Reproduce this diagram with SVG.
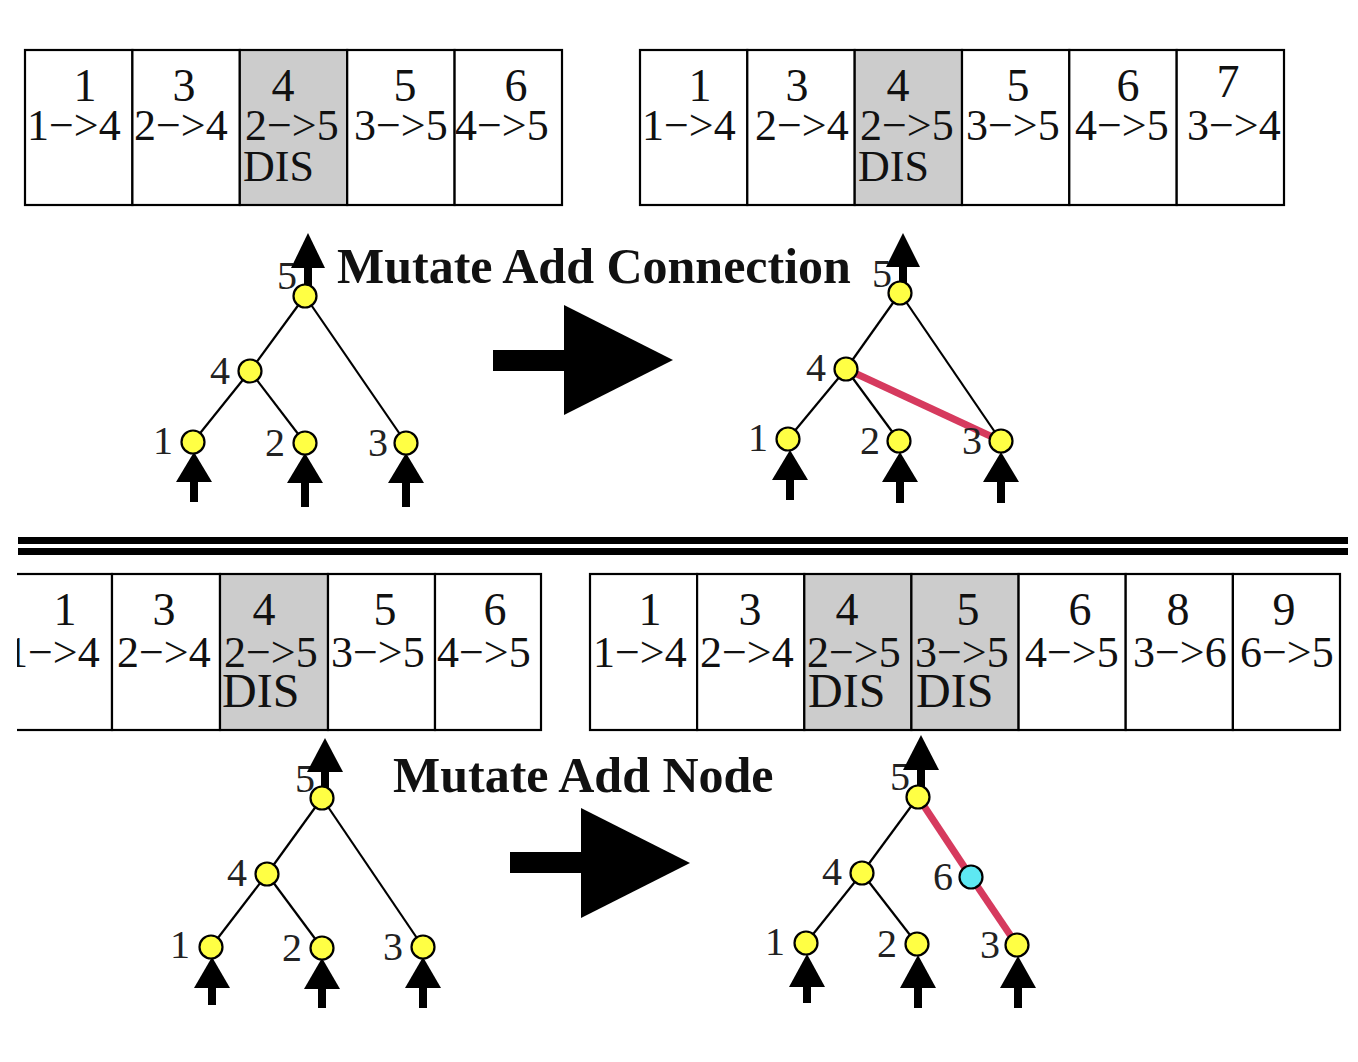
<svg xmlns="http://www.w3.org/2000/svg" width="1358" height="1062" viewBox="0 0 1358 1062">
<defs>
<style>
.bg{fill:#ffffff}
.cell{fill:#ffffff;stroke:#000;stroke-width:2.2}
.dis{fill:#cccccc;stroke:#000;stroke-width:2.2}
.gt{font-family:"Liberation Serif","Times New Roman",serif;font-size:44px;fill:#111}
.gn{font-family:"Liberation Serif","Times New Roman",serif;font-size:46px;fill:#111;text-anchor:middle}
.gd{font-family:"Liberation Serif","Times New Roman",serif;font-size:44px;fill:#111}
.gd2{font-family:"Liberation Serif","Times New Roman",serif;font-size:48px;fill:#111}
.lab{font-family:"Liberation Serif","Times New Roman",serif;font-size:40px;fill:#222;text-anchor:middle}
.title{font-family:"Liberation Serif","Times New Roman",serif;font-size:50px;font-weight:bold;fill:#111}
.edge{stroke:#000;stroke-width:2.2;fill:none}
.new{stroke:#d63a5e;stroke-width:7;fill:none}
.node{fill:#ffff44;stroke:#000;stroke-width:2.2}
.hid{fill:#5ee8f2;stroke:#000;stroke-width:2.2}
.arr{fill:#000}
</style>
<clipPath id="clipBL"><rect x="17" y="560" width="600" height="200"/></clipPath>
</defs>
<rect class="bg" x="0" y="0" width="1358" height="1062"/>

<!-- Top-left genome -->
<g id="genome-parent-conn">
<g id="g1-c1"><rect class="cell" x="25" y="50" width="107.4" height="155"/><text class="gn" x="85" y="101">1</text><text class="gt" x="27" y="140">1−&gt;4</text></g>
<g id="g1-c3"><rect class="cell" x="132.4" y="50" width="107.4" height="155"/><text class="gn" x="184" y="101">3</text><text class="gt" x="134" y="140">2−&gt;4</text></g>
<g id="g1-c4"><rect class="dis" x="239.8" y="50" width="107.4" height="155"/><text class="gn" x="283" y="101">4</text><text class="gt" x="245" y="140">2−&gt;5</text><text class="gd" x="243" y="181">DIS</text></g>
<g id="g1-c5"><rect class="cell" x="347.2" y="50" width="107.4" height="155"/><text class="gn" x="405" y="101">5</text><text class="gt" x="354" y="140">3−&gt;5</text></g>
<g id="g1-c6"><rect class="cell" x="454.6" y="50" width="107.4" height="155"/><text class="gn" x="516" y="101">6</text><text class="gt" x="455" y="140">4−&gt;5</text></g>
</g>

<!-- Top-right genome -->
<g id="genome-child-conn">
<g id="g2-c1"><rect class="cell" x="640" y="50" width="107.3" height="155"/><text class="gn" x="700" y="101">1</text><text class="gt" x="642" y="140">1−&gt;4</text></g>
<g id="g2-c3"><rect class="cell" x="747.3" y="50" width="107.4" height="155"/><text class="gn" x="797" y="101">3</text><text class="gt" x="755" y="140">2−&gt;4</text></g>
<g id="g2-c4"><rect class="dis" x="854.7" y="50" width="107.3" height="155"/><text class="gn" x="898" y="101">4</text><text class="gt" x="860" y="140">2−&gt;5</text><text class="gd" x="858" y="181">DIS</text></g>
<g id="g2-c5"><rect class="cell" x="962" y="50" width="107.3" height="155"/><text class="gn" x="1018" y="101">5</text><text class="gt" x="966" y="140">3−&gt;5</text></g>
<g id="g2-c6"><rect class="cell" x="1069.3" y="50" width="107.4" height="155"/><text class="gn" x="1128" y="101">6</text><text class="gt" x="1075" y="140">4−&gt;5</text></g>
<g id="g2-c7"><rect class="cell" x="1176.7" y="50" width="107.3" height="155"/><text class="gn" x="1228" y="97">7</text><text class="gt" x="1187" y="140">3−&gt;4</text></g>
</g>

<!-- Title top -->
<text class="title" x="337" y="283">Mutate Add Connection</text>

<!-- Big arrows -->
<g id="big-arrow-top"><rect class="arr" x="493" y="350" width="73" height="21"/><polygon class="arr" points="564,305 673,360 564,415"/></g>
<g id="big-arrow-bottom"><rect class="arr" x="510" y="852" width="73" height="21"/><polygon class="arr" points="581,808 690,863 581,918"/></g>

<!-- Separator -->
<g id="separator">
<rect x="18" y="537" width="1330" height="7" fill="#000"/>
<rect x="18" y="548" width="1330" height="7" fill="#000"/>
</g>

<!-- Bottom-left genome -->
<g id="genome-parent-node" clip-path="url(#clipBL)">
<g id="g3-c1"><rect class="cell" x="4.7" y="574" width="107.3" height="156"/><text class="gn" x="65" y="625">1</text><text class="gt" x="6" y="667">1−&gt;4</text></g>
<g id="g3-c3"><rect class="cell" x="112" y="574" width="108" height="156"/><text class="gn" x="164" y="625">3</text><text class="gt" x="117" y="667">2−&gt;4</text></g>
<g id="g3-c4"><rect class="dis" x="220" y="574" width="108" height="156"/><text class="gn" x="264" y="625">4</text><text class="gt" x="224" y="667">2−&gt;5</text><text class="gd2" x="222" y="707">DIS</text></g>
<g id="g3-c5"><rect class="cell" x="328" y="574" width="107" height="156"/><text class="gn" x="385" y="625">5</text><text class="gt" x="331" y="667">3−&gt;5</text></g>
<g id="g3-c6"><rect class="cell" x="435" y="574" width="106" height="156"/><text class="gn" x="495" y="625">6</text><text class="gt" x="437" y="667">4−&gt;5</text></g>
</g>

<!-- Bottom-right genome -->
<g id="genome-child-node">
<g id="g4-c1"><rect class="cell" x="590" y="574" width="107.1" height="156"/><text class="gn" x="650" y="625">1</text><text class="gt" x="593" y="667">1−&gt;4</text></g>
<g id="g4-c3"><rect class="cell" x="697.1" y="574" width="107.2" height="156"/><text class="gn" x="750" y="625">3</text><text class="gt" x="700" y="667">2−&gt;4</text></g>
<g id="g4-c4"><rect class="dis" x="804.3" y="574" width="107.1" height="156"/><text class="gn" x="847" y="625">4</text><text class="gt" x="807" y="667">2−&gt;5</text><text class="gd2" x="808" y="707">DIS</text></g>
<g id="g4-c5"><rect class="dis" x="911.4" y="574" width="107.2" height="156"/><text class="gn" x="968" y="625">5</text><text class="gt" x="915" y="667">3−&gt;5</text><text class="gd2" x="916" y="707">DIS</text></g>
<g id="g4-c6"><rect class="cell" x="1018.6" y="574" width="107.1" height="156"/><text class="gn" x="1080" y="625">6</text><text class="gt" x="1025" y="667">4−&gt;5</text></g>
<g id="g4-c8"><rect class="cell" x="1125.7" y="574" width="107.2" height="156"/><text class="gn" x="1178" y="625">8</text><text class="gt" x="1133" y="667">3−&gt;6</text></g>
<g id="g4-c9"><rect class="cell" x="1232.9" y="574" width="107.1" height="156"/><text class="gn" x="1284" y="625">9</text><text class="gt" x="1240" y="667">6−&gt;5</text></g>
</g>

<!-- Title bottom -->
<text class="title" x="393" y="792">Mutate Add Node</text>

<!-- Connectors -->
<g id="connectors">
<!-- top-left network -->
<line class="edge" x1="305" y1="296" x2="250" y2="371"/>
<line class="edge" x1="250" y1="371" x2="193" y2="442"/>
<line class="edge" x1="250" y1="371" x2="305" y2="443"/>
<line class="edge" x1="305" y1="296" x2="406" y2="443"/>
<!-- top-right network -->
<line class="edge" x1="900" y1="293" x2="846" y2="369"/>
<line class="edge" x1="846" y1="369" x2="788" y2="439"/>
<line class="edge" x1="846" y1="369" x2="899" y2="441"/>
<line class="edge" x1="900" y1="293" x2="1001" y2="441"/>
<line class="new" x1="846" y1="369" x2="1001" y2="441"/>
<!-- bottom-left network -->
<line class="edge" x1="322" y1="798" x2="267" y2="874"/>
<line class="edge" x1="267" y1="874" x2="211" y2="947"/>
<line class="edge" x1="267" y1="874" x2="322" y2="948"/>
<line class="edge" x1="322" y1="798" x2="423" y2="947"/>
<!-- bottom-right network -->
<line class="edge" x1="918" y1="797" x2="862" y2="873"/>
<line class="edge" x1="862" y1="873" x2="806" y2="943"/>
<line class="edge" x1="862" y1="873" x2="917" y2="944"/>
<line class="new" x1="918" y1="797" x2="971" y2="877"/>
<line class="new" x1="971" y1="877" x2="1017" y2="945"/>
</g>

<!-- Node labels -->
<g id="labels">
<text class="lab" x="287" y="289">5</text>
<text class="lab" x="220" y="384">4</text>
<text class="lab" x="163" y="454">1</text>
<text class="lab" x="275" y="456">2</text>
<text class="lab" x="378" y="456">3</text>
<text class="lab" x="882" y="287">5</text>
<text class="lab" x="816" y="381">4</text>
<text class="lab" x="758" y="451">1</text>
<text class="lab" x="870" y="454">2</text>
<text class="lab" x="972" y="454">3</text>
<text class="lab" x="305" y="792">5</text>
<text class="lab" x="237" y="886">4</text>
<text class="lab" x="180" y="958">1</text>
<text class="lab" x="292" y="961">2</text>
<text class="lab" x="393" y="960">3</text>
<text class="lab" x="900" y="790">5</text>
<text class="lab" x="832" y="885">4</text>
<text class="lab" x="943" y="890">6</text>
<text class="lab" x="775" y="955">1</text>
<text class="lab" x="887" y="957">2</text>
<text class="lab" x="990" y="958">3</text>
</g>

<!-- I/O arrows -->
<g id="io-arrows">
<polygon class="arr" points="308,233 325,268 291,268"/><rect class="arr" x="304" y="266" width="8" height="20"/>
<polygon class="arr" points="194,452 212,482 176,482"/><rect class="arr" x="190" y="480" width="8" height="22"/>
<polygon class="arr" points="305,453 323,483 287,483"/><rect class="arr" x="301" y="481" width="8" height="26"/>
<polygon class="arr" points="406,453 424,483 388,483"/><rect class="arr" x="402" y="481" width="8" height="26"/>

<polygon class="arr" points="903,233 920,267 886,267"/><rect class="arr" x="899" y="265" width="8" height="20"/>
<polygon class="arr" points="790,450 808,480 772,480"/><rect class="arr" x="786" y="478" width="8" height="22"/>
<polygon class="arr" points="900,452 918,482 882,482"/><rect class="arr" x="896" y="480" width="8" height="23"/>
<polygon class="arr" points="1001,452 1019,482 983,482"/><rect class="arr" x="997" y="480" width="8" height="23"/>

<polygon class="arr" points="325,738 343,772 307,772"/><rect class="arr" x="321" y="770" width="8" height="20"/>
<polygon class="arr" points="212,957 230,988 194,988"/><rect class="arr" x="208" y="986" width="8" height="19"/>
<polygon class="arr" points="322,958 340,989 304,989"/><rect class="arr" x="318" y="987" width="8" height="21"/>
<polygon class="arr" points="423,957 441,988 405,988"/><rect class="arr" x="419" y="986" width="8" height="22"/>

<polygon class="arr" points="921,735 939,770 903,770"/><rect class="arr" x="917" y="768" width="8" height="20"/>
<polygon class="arr" points="807,954 825,987 789,987"/><rect class="arr" x="803" y="985" width="8" height="18"/>
<polygon class="arr" points="918,955 936,988 900,988"/><rect class="arr" x="914" y="986" width="8" height="22"/>
<polygon class="arr" points="1018,956 1036,988 1000,988"/><rect class="arr" x="1014" y="986" width="8" height="22"/>
</g>

<!-- Nodes -->
<g id="tl-n5"><circle class="node" cx="305" cy="296" r="11.5"/></g>
<g id="tl-n4"><circle class="node" cx="250" cy="371" r="11.5"/></g>
<g id="tl-n1"><circle class="node" cx="193" cy="442" r="11.5"/></g>
<g id="tl-n2"><circle class="node" cx="305" cy="443" r="11.5"/></g>
<g id="tl-n3"><circle class="node" cx="406" cy="443" r="11.5"/></g>

<g id="tr-n5"><circle class="node" cx="900" cy="293" r="11.5"/></g>
<g id="tr-n4"><circle class="node" cx="846" cy="369" r="11.5"/></g>
<g id="tr-n1"><circle class="node" cx="788" cy="439" r="11.5"/></g>
<g id="tr-n2"><circle class="node" cx="899" cy="441" r="11.5"/></g>
<g id="tr-n3"><circle class="node" cx="1001" cy="441" r="11.5"/></g>

<g id="bl-n5"><circle class="node" cx="322" cy="798" r="11.5"/></g>
<g id="bl-n4"><circle class="node" cx="267" cy="874" r="11.5"/></g>
<g id="bl-n1"><circle class="node" cx="211" cy="947" r="11.5"/></g>
<g id="bl-n2"><circle class="node" cx="322" cy="948" r="11.5"/></g>
<g id="bl-n3"><circle class="node" cx="423" cy="947" r="11.5"/></g>

<g id="br-n5"><circle class="node" cx="918" cy="797" r="11.5"/></g>
<g id="br-n4"><circle class="node" cx="862" cy="873" r="11.5"/></g>
<g id="br-n6"><circle class="hid" cx="971" cy="877" r="11.5"/></g>
<g id="br-n1"><circle class="node" cx="806" cy="943" r="11.5"/></g>
<g id="br-n2"><circle class="node" cx="917" cy="944" r="11.5"/></g>
<g id="br-n3"><circle class="node" cx="1017" cy="945" r="11.5"/></g>
</svg>
